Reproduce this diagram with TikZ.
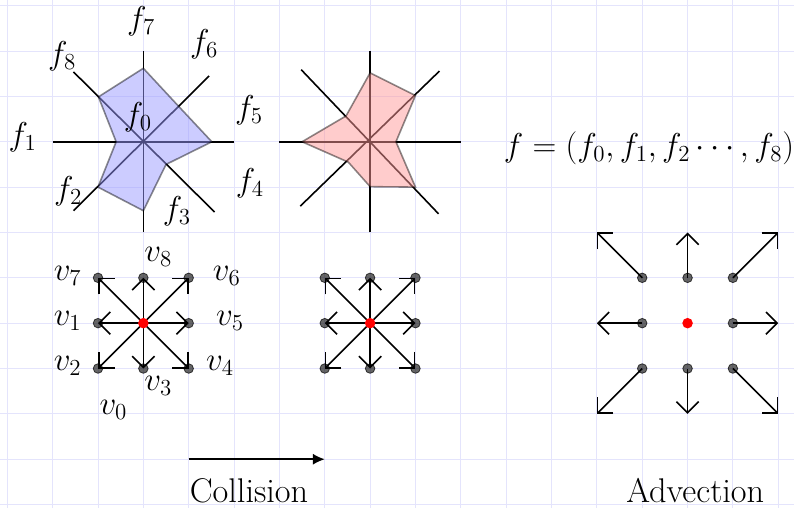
\RequirePackage{fix-cm}
\documentclass[tikz,border=0pt]{standalone}
\usetikzlibrary{arrows.meta}
\definecolor{gridc}{RGB}{228,228,252}
\begin{document}
\begin{tikzpicture}[
  x=1cm,y=1cm,
  every node/.style={font=\fontsize{20.74}{25}\selectfont, inner sep=0pt},
  captext/.style={font=\fontsize{21.5}{26}\selectfont},
  axis/.style={line width=1pt, black},
  blob/.style={draw=black, draw opacity=0.45, line width=1pt, fill opacity=0.5},
  vec/.style={line width=1pt, -{Straight Barb[length=7pt,width=14pt]}},
  gdot/.style={circle, fill=black, fill opacity=0.6, draw=black, draw opacity=0.7, line width=0.5pt, minimum size=6pt, inner sep=0pt},
  rdot/.style={circle, fill=red, minimum size=6.6pt, inner sep=0pt}
]
\useasboundingbox (-3.161,-8.076) rectangle (14.347,3.126);
\draw[gridc, line width=0.6pt] (-3.161,-8.076) grid (14.347,3.126);

% ---- star 1 (blue) ----
\coordinate (p0) at (0,0);
\coordinate (p1) at (-2,0);
\coordinate (p5) at (2,0);
\coordinate (p7) at (0,2);
\coordinate (p3) at (0,-2);
\coordinate (p8) at (-1.54,1.54);
\coordinate (p6) at (1.45,1.45);
\coordinate (p4) at (1.57,-1.55);
\coordinate (p2) at (-1.54,-1.52);
\draw[axis] (p1) -- (p5);
\draw[axis] (p3) -- (p7);
\draw[axis] (p8) -- (p4);
\draw[axis] (p2) -- (p6);
\draw[blob, fill=blue!40] (0,1.62) -- (0.78,0.78) -- (1.51,0) -- (0.5,-0.5) -- (0,-1.52) -- (-1,-1) -- (-0.6,0) -- (-0.99,0.99) -- cycle;

\node (f7) at (-0.05,2.66) {$f_7$};
\node (f6) at (1.34,2.15) {$f_6$};
\node (f5) at (2.33,0.70) {$f_5$};
\node (f4) at (2.35,-0.91) {$f_4$};
\node (f3) at (0.74,-1.53) {$f_3$};
\node (f2) at (-1.66,-1.09) {$f_2$};
\node (f1) at (-2.66,0.10) {$f_1$};
\node (f8) at (-1.79,1.89) {$f_8$};
\node (f0) at (-0.12,0.55) {$f_0$};

% ---- star 2 (red) ----
\coordinate (q0) at (5,0);
\coordinate (q1) at (3,0);
\coordinate (q5) at (7,0);
\coordinate (q7) at (5,2);
\coordinate (q3) at (5,-2);
\coordinate (q8) at (3.48,1.59);
\coordinate (q6) at (6.53,1.56);
\coordinate (q4) at (6.51,-1.59);
\coordinate (q2) at (3.46,-1.42);
\draw[axis] (q1) -- (q5);
\draw[axis] (q3) -- (q7);
\draw[axis] (q8) -- (q4);
\draw[axis] (q2) -- (q6);
\draw[blob, fill=red!40] (5,1.52) -- (6,1.02) -- (5.57,0) -- (6,-1) -- (5,-0.99) -- (4.52,-0.45) -- (3.5,0) -- (4.47,0.57) -- cycle;

\node (eq) at (11.15,-0.14) {$f = (f_0, f_1, f_2 \cdots, f_8)$};

% ---- collision stencils ----
\foreach \n/\cx in {s/0, t/5} {
  \coordinate (\n c) at (\cx,-4);
  \foreach \k/\dx/\dy in {1/-1/0, 2/-1/-1, 3/0/-1, 4/1/-1, 5/1/0, 6/1/1, 7/-1/1, 8/0/1} {
    \coordinate (\n\k) at (\cx+\dx,-4+\dy);
    \draw[vec] (\n c) -- (\n\k);
    \node[gdot] (\n d\k) at (\n\k) {};
  }
  \node[rdot] (\n r) at (\n c) {};
}

\node (v7) at (-1.67,-2.95) {$v_7$};
\node (v8) at (0.33,-2.53) {$v_8$};
\node (v6) at (1.84,-2.95) {$v_6$};
\node (v1) at (-1.67,-3.95) {$v_1$};
\node (v5) at (1.91,-3.95) {$v_5$};
\node (v2) at (-1.67,-4.94) {$v_2$};
\node (v4) at (1.69,-4.94) {$v_4$};
\node (v3) at (0.33,-5.38) {$v_3$};
\node (v0) at (-0.66,-5.92) {$v_0$};

% ---- advection stencil ----
\coordinate (ac) at (12,-4);
\foreach \k/\dx/\dy in {1/-1/0, 2/-1/-1, 3/0/-1, 4/1/-1, 5/1/0, 6/1/1, 7/-1/1, 8/0/1} {
  \coordinate (a\k) at (12+\dx,-4+\dy);
  \coordinate (b\k) at (12+2*\dx,-4+2*\dy);
  \draw[vec] (a\k) -- (b\k);
  \node[gdot] (ad\k) at (a\k) {};
}
\node[rdot] (ar) at (ac) {};

% ---- collision arrow and captions ----
\coordinate (ca) at (1,-7);
\coordinate (cb) at (4,-7);
\draw[line width=1pt, -{Latex[length=7.5pt,width=7pt]}] (ca) -- (cb);
\node[captext] (col) at (2.33,-7.69) {Collision};
\node[captext] (adv) at (12.17,-7.69) {Advection};
\end{tikzpicture}
\end{document}
